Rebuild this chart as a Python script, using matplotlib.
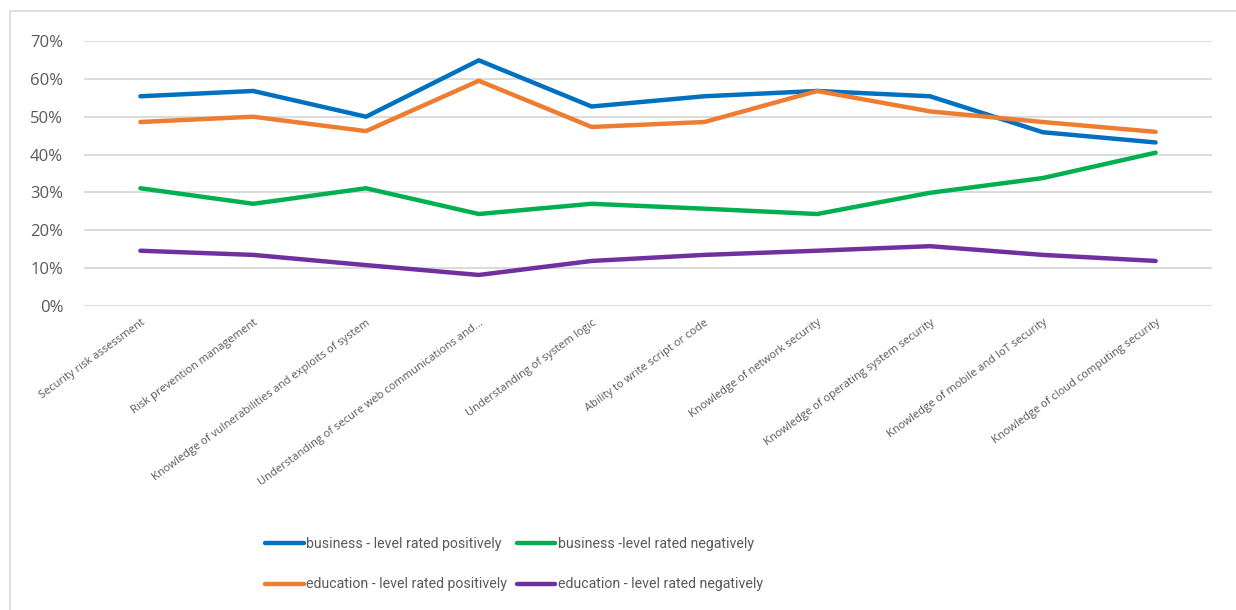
import matplotlib.pyplot as plt
from matplotlib.patches import Rectangle
from matplotlib.ticker import PercentFormatter

categories = [
    'Security risk assessment',
    'Risk prevention management',
    'Knowledge of vulnerabilities and exploits of system',
    'Understanding of secure web communications and...',
    'Understanding of system logic',
    'Ability to write script or code',
    'Knowledge of network security',
    'Knowledge of operating system security',
    'Knowledge of mobile and IoT security',
    'Knowledge of cloud computing security',
]

# valores em %
business_pos = [55.4, 56.8, 50.0, 64.9, 52.7, 55.4, 56.8, 55.4, 45.9, 43.2]
education_pos = [48.6, 50.0, 46.2, 59.5, 47.3, 48.6, 56.8, 51.4, 48.6, 46.0]
business_neg = [31.1, 27.0, 31.1, 24.3, 27.0, 25.7, 24.3, 29.9, 33.8, 40.5]
education_neg = [14.6, 13.5, 10.8, 8.2, 11.9, 13.5, 14.6, 15.8, 13.5, 11.9]

series = [
    ('business - level rated positively', business_pos, '#0070C0'),
    ('education - level rated positively', education_pos, '#ED7D31'),
    ('business -level rated negatively', business_neg, '#00B050'),
    ('education - level rated negatively', education_neg, '#7030A0'),
]

fig = plt.figure(figsize=(12.36, 6.10), dpi=100)
ax = fig.add_axes([84 / 1236, 1 - 306 / 610, (1212 - 84) / 1236, 265 / 610])

x = list(range(len(categories)))
for label, vals, color in series:
    ax.plot(x, [v / 100 for v in vals], color=color, lw=3.2, label=label,
            solid_capstyle='round', solid_joinstyle='round')

ax.set_xlim(-0.5, len(categories) - 0.5)
ax.set_ylim(0, 0.7)
ax.set_yticks([i / 10 for i in range(8)])
ax.yaxis.set_major_formatter(PercentFormatter(1.0, decimals=0))
ax.grid(axis='y', color='#d9d9d9', lw=1.3)
ax.set_axisbelow(True)
for s in ax.spines.values():
    s.set_visible(False)

ax.tick_params(axis='y', length=0, pad=15, labelsize=12, labelcolor='#595959')
ax.tick_params(axis='x', length=0, pad=8)
ax.set_xticks(x)
ax.set_xticklabels(categories, rotation=36, ha='right', va='top',
                   rotation_mode='anchor', fontsize=8, color='#595959',
                   family='Open Sans')
for t in ax.get_yticklabels():
    t.set_family('Open Sans')

leg = fig.legend(loc='center', bbox_to_anchor=(514 / 1236, 1 - 564 / 610), ncol=2,
                 frameon=False, handlelength=2.7, handletextpad=0.2,
                 columnspacing=0.65, labelspacing=1.9,
                 prop={'family': 'Roboto', 'size': 10.2})
for t in leg.get_texts():
    t.set_color('#595959')

# borda do gráfico
fig.patches.append(Rectangle((10 / 1236, -0.01), 1.0, 1 - 11 / 610 + 0.01,
                             transform=fig.transFigure, fill=False,
                             edgecolor='#d9d9d9', lw=1.2))

fig.savefig('out.png', dpi=100)
